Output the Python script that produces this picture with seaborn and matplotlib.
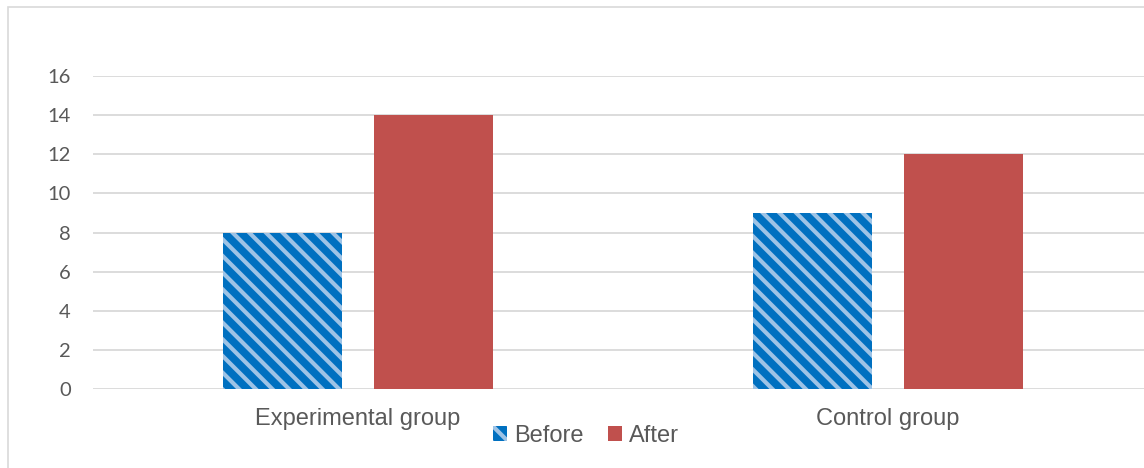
import pandas as pd
import numpy as np
import matplotlib.pyplot as plt
import seaborn as sns
from matplotlib.patches import Patch, Rectangle

sns.set_style("white")
plt.rcParams['font.family'] = ['Liberation Sans', 'DejaVu Sans']
plt.rcParams['hatch.linewidth'] = 3.0

# data
groups = ["Experimental group", "Control group"]
periods = ["Before", "After"]
before = [8, 9]
after = [14, 12]
yticks = [0, 2, 4, 6, 8, 10, 12, 14, 16]

df = pd.DataFrame({
    "group": groups * 2,
    "period": ["Before"] * len(groups) + ["After"] * len(groups),
    "value": before + after,
})

blue = "#0070C0"
stripe = "#9DC3E6"
red = "#C0504D"
grey_txt = "#595959"
grid_c = "#D9D9D9"

fig = plt.figure(figsize=(11.44, 4.68), dpi=100)
ax = fig.add_axes([93/1144, 1-389/468, 1060/1144, (389-76)/468])

sns.barplot(data=df, x="group", y="value", hue="period", hue_order=periods,
            palette=[blue, red], width=0.57, gap=0.21, errorbar=None,
            legend=False, ax=ax, linewidth=0, saturation=1)

# striped pattern on the "Before" bars
for p in ax.containers[0]:
    p.set_hatch("\\\\")
    p.set_edgecolor(stripe)
    p.set_linewidth(0)

ax.set_xlim(-0.5, 1.5)
ax.set_ylim(0, 16)
ax.set_yticks(yticks)
ax.set_yticklabels([str(t) for t in yticks], family=['Lato', 'DejaVu Sans'], fontsize=14.5, color=grey_txt)
ax.set_xticks([0, 1])
ax.set_xticklabels(groups, fontsize=17, color=grey_txt)
ax.tick_params(axis='y', length=0, pad=16)
ax.tick_params(axis='x', length=0, pad=14)
ax.set_xlabel("")
ax.set_ylabel("")
ax.yaxis.grid(True, color=grid_c, linewidth=1.3)
ax.set_axisbelow(True)
sns.despine(ax=ax, left=True, bottom=True, top=True, right=True)

handles = [Patch(facecolor=blue, edgecolor=stripe, hatch="\\\\", linewidth=0, label="Before"),
           Patch(facecolor=red, edgecolor=red, linewidth=0, label="After")]
fig.legend(handles=handles, loc="center", bbox_to_anchor=(586/1144, 1-436/468),
           ncol=2, frameon=False, fontsize=17, labelcolor=grey_txt,
           handlelength=0.62, handleheight=0.62, handletextpad=0.3, columnspacing=1.0)

# chart border (cut off on the right and bottom)
fig.patches.append(Rectangle((8/1144, -0.5), 2, 1.5-7/468, transform=fig.transFigure,
                             fill=False, edgecolor=grid_c, linewidth=1.2))

fig.savefig("out.png", dpi=100)
